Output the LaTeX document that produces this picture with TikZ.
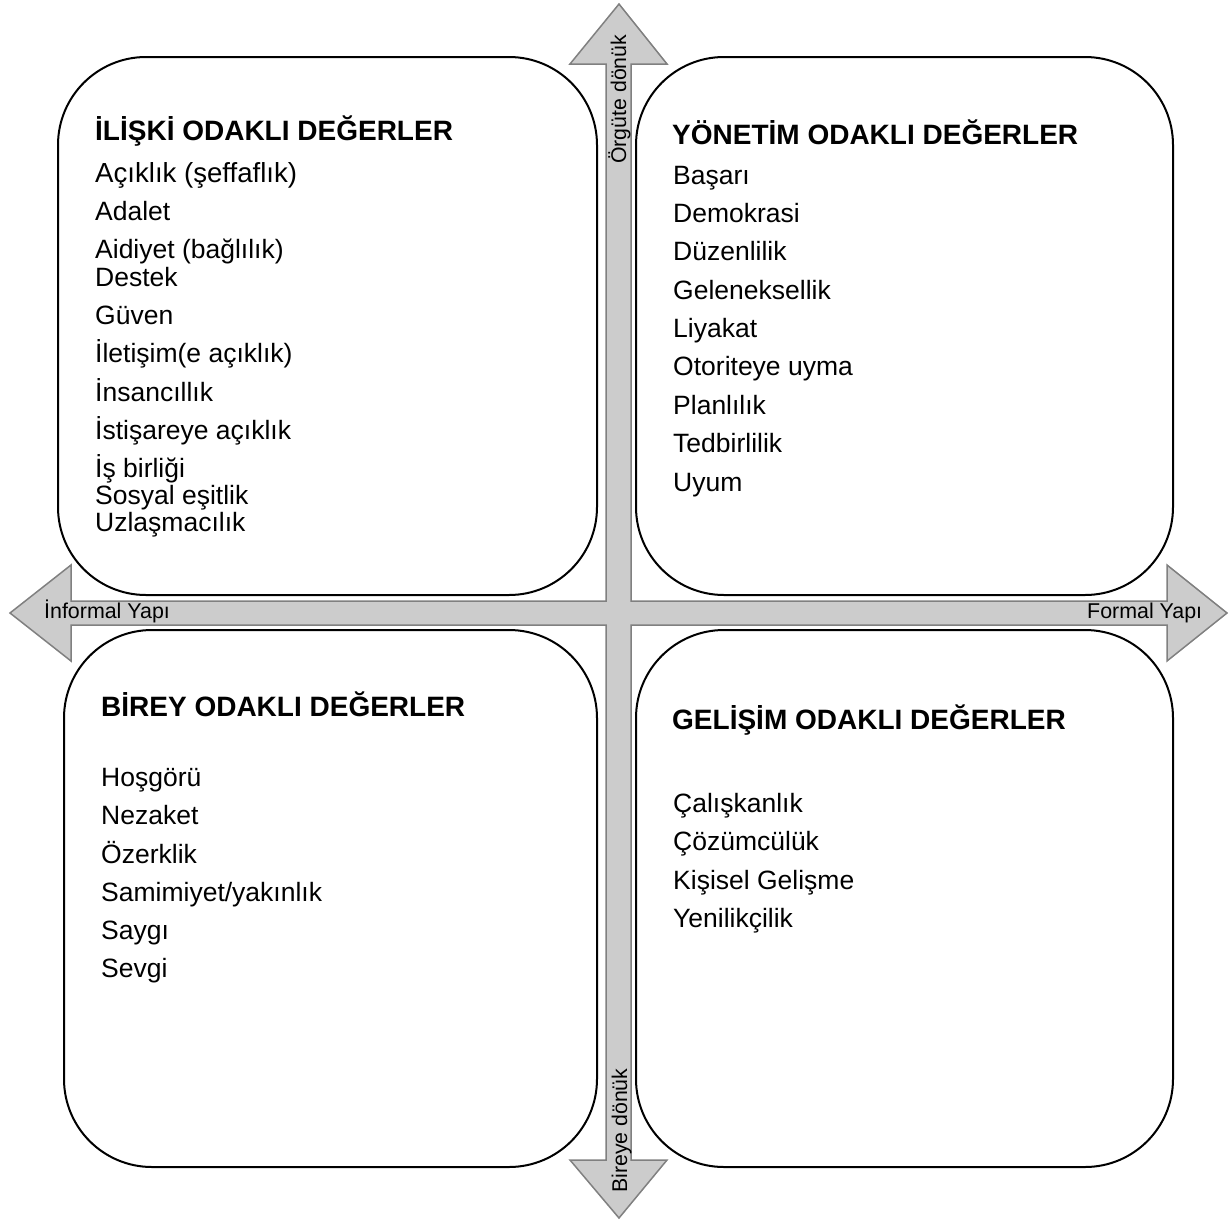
\documentclass[tikz,border=0pt]{standalone}
\usepackage{fontspec}
\setmainfont{Liberation Sans}
\definecolor{axisfill}{RGB}{204,204,204}
\definecolor{axisline}{RGB}{128,128,128}
\begin{document}
\begin{tikzpicture}[x=1pt,y=-1pt,
  valuebox/.style={draw=black, line width=2pt, rounded corners=88pt},
  heading/.style={anchor=base west, inner sep=0pt, font=\fontsize{28}{32}\selectfont\bfseries},
  item/.style={anchor=base west, inner sep=0pt, font=\fontsize{26.5}{30}\selectfont},
  axislabel/.style={anchor=base west, inner sep=0pt, font=\fontsize{21.4}{24}\selectfont},
  vlabel/.style={anchor=base west, inner sep=0pt, rotate=90, font=\fontsize{21.3}{24}\selectfont}]
\useasboundingbox (0,0) rectangle (1229,1219);

% four-headed axis cross
\draw[fill=axisfill, draw=axisline, line width=1.5pt, line join=miter]
  (619,4) -- (667,64) -- (631,64) -- (631,601) -- (1167,601) -- (1167,565)
  -- (1227,613) -- (1167,661) -- (1167,625) -- (631,625) -- (631,1160)
  -- (667,1160) -- (619,1218) -- (570,1160) -- (606,1160) -- (606,625)
  -- (71,625) -- (71,661) -- (10,613) -- (71,565) -- (71,601) -- (606,601)
  -- (606,64) -- (570,64) -- cycle;

% quadrant frames
\draw[valuebox] (58,57) rectangle (597,595);
\draw[valuebox] (636,57) rectangle (1173,595);
\draw[valuebox] (64,630) rectangle (597,1167);
\draw[valuebox] (636,630) rectangle (1173,1167);

% axis labels
\node[vlabel] (orgut) at (626,164) {Örgüte dönük};
\node[vlabel] (birey) at (627,1193) {Bireye dönük};
\node[axislabel] (informal) at (44,618) {İnformal Yapı};
\node[axislabel] (formal) at (1087,618) {Formal Yapı};

% relationship-oriented values
\node[heading] (h1) at (95,140) {İLİŞKİ ODAKLI DEĞERLER};
\node[item, font=\fontsize{27.6}{30}\selectfont] (a0) at (95,182) {Açıklık (şeffaflık)};
\foreach \t/\y [count=\i] in {{Adalet}/220, {Aidiyet (bağlılık)}/258,
  {Destek}/286, {Güven}/324, {İletişim(e açıklık)}/362, {İnsancıllık}/401,
  {İstişareye açıklık}/439, {İş birliği}/477, {Sosyal eşitlik}/504, {Uzlaşmacılık}/531}
  \node[item] (a\i) at (95,\y) {\t};

% management-oriented values
\node[heading] (h2) at (672,144) {YÖNETİM ODAKLI DEĞERLER};
\foreach \t/\y [count=\i] in {{Başarı}/184, {Demokrasi}/222, {Düzenlilik}/260, {Geleneksellik}/299,
  {Liyakat}/337, {Otoriteye uyma}/375, {Planlılık}/414, {Tedbirlilik}/452, {Uyum}/491}
  \node[item] (b\i) at (673,\y) {\t};

% individual-oriented values
\node[heading] (h3) at (101,716) {BİREY ODAKLI DEĞERLER};
\foreach \t/\y [count=\i] in {{Hoşgörü}/786, {Nezaket}/824, {Özerklik}/863,
  {Samimiyet/yakınlık}/901, {Saygı}/939, {Sevgi}/977}
  \node[item] (c\i) at (101,\y) {\t};

% development-oriented values
\node[heading] (h4) at (672,729) {GELİŞİM ODAKLI DEĞERLER};
\foreach \t/\y [count=\i] in {{Çalışkanlık}/812, {Çözümcülük}/850, {Kişisel Gelişme}/889, {Yenilikçilik}/927}
  \node[item] (d\i) at (673,\y) {\t};
\end{tikzpicture}
\end{document}
